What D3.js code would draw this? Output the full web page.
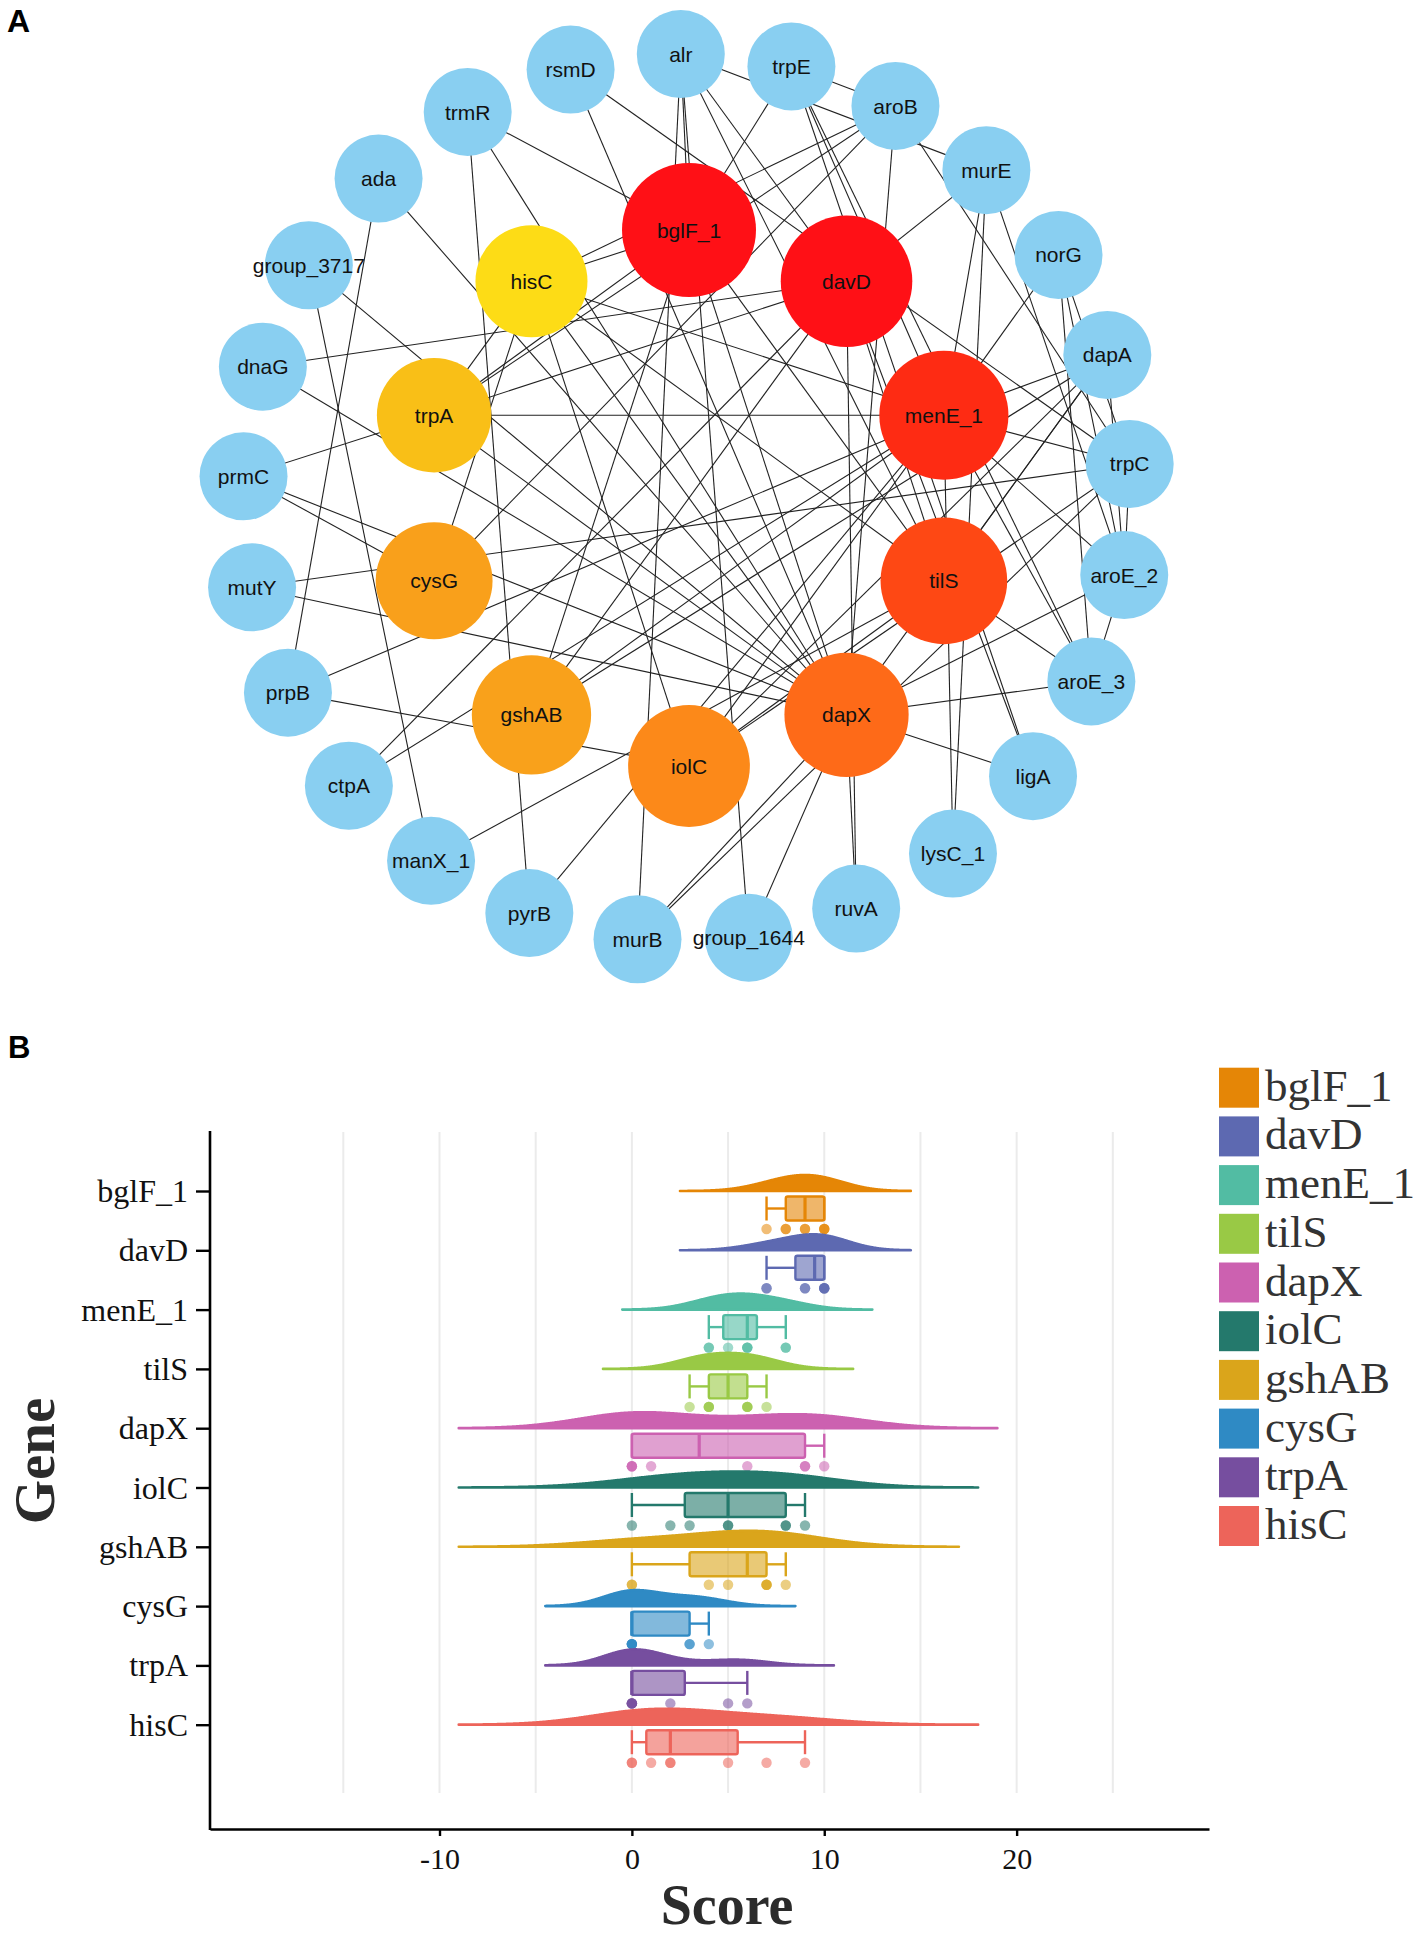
<!DOCTYPE html>
<html>
<head>
<meta charset="utf-8">
<script src="https://cdn.jsdelivr.net/npm/d3@7"></script>
<style>
body { margin: 0; background: #fff; }
svg { display: block; }
</style>
</head>
<body>
<svg id="fig" width="1418" height="1938"></svg>
<script>
// hub genes in rank order (inner ring of A, rows of B)
const genes = ["bglF_1", "davD", "menE_1", "tilS", "dapX", "iolC", "gshAB", "cysG", "trpA", "hisC"];

// outer ring of A, clockwise from the top
const ringGenes = ["alr", "trpE", "aroB", "murE", "norG", "dapA", "trpC", "aroE_2", "aroE_3", "ligA",
    "lysC_1", "ruvA", "group_1644", "murB", "pyrB", "manX_1", "ctpA", "prpB", "mutY", "prmC",
    "dnaG", "group_3717", "ada", "trmR", "rsmD"];

// interactions
const links = [
    ["trmR", "bglF_1"], ["trmR", "dapX"], ["trmR", "pyrB"],
    ["rsmD", "trpC"], ["rsmD", "dapX"],
    ["alr", "bglF_1"], ["alr", "murB"], ["alr", "group_1644"], ["alr", "davD"], ["alr", "murE"], ["alr", "tilS"],
    ["trpE", "menE_1"], ["trpE", "aroE_3"], ["trpE", "aroB"], ["trpE", "ligA"], ["trpE", "bglF_1"],
    ["aroB", "hisC"], ["aroB", "trpA"], ["aroB", "cysG"], ["aroB", "dapX"], ["aroB", "trpC"],
    ["murE", "davD"], ["murE", "lysC_1"], ["murE", "menE_1"], ["murE", "aroE_2"],
    ["norG", "menE_1"], ["norG", "aroE_3"], ["norG", "aroE_2"], ["norG", "trpC"],
    ["dapA", "menE_1"], ["dapA", "gshAB"], ["dapA", "iolC"], ["dapA", "tilS"], ["dapA", "dapX"], ["dapA", "aroE_2"],
    ["trpC", "menE_1"], ["trpC", "aroE_2"], ["trpC", "murB"], ["mutY", "trpC"],
    ["aroE_2", "dapX"], ["aroE_2", "menE_1"], ["aroE_2", "aroE_3"],
    ["aroE_3", "dapX"], ["aroE_3", "tilS"], ["aroE_3", "menE_1"],
    ["ligA", "dapX"], ["ligA", "davD"],
    ["lysC_1", "menE_1"],
    ["ruvA", "dapX"], ["ruvA", "davD"],
    ["group_1644", "dapX"], ["murB", "dapX"], ["pyrB", "menE_1"],
    ["manX_1", "tilS"], ["group_3717", "manX_1"],
    ["ctpA", "davD"], ["ctpA", "menE_1"],
    ["prpB", "menE_1"], ["prpB", "iolC"], ["ada", "prpB"],
    ["mutY", "dapX"],
    ["prmC", "trpA"], ["prmC", "cysG"], ["prmC", "dapX"],
    ["dnaG", "davD"], ["dnaG", "dapX"],
    ["group_3717", "dapX"], ["ada", "dapX"],
    ["hisC", "bglF_1"], ["trpA", "hisC"], ["trpA", "bglF_1"], ["trpA", "davD"], ["trpA", "menE_1"], ["trpA", "dapX"],
    ["hisC", "cysG"], ["hisC", "iolC"], ["hisC", "tilS"], ["hisC", "dapX"], ["hisC", "menE_1"],
    ["bglF_1", "gshAB"], ["bglF_1", "tilS"], ["bglF_1", "dapX"], ["gshAB", "menE_1"], ["iolC", "tilS"],
    ["iolC", "menE_1"], ["iolC", "trpC"], ["gshAB", "davD"], ["davD", "tilS"]
];

// panel B: scores per gene (same order as genes)
const scores = [
    [7, 8, 8, 9, 9, 10, 10, 10],
    [7, 7, 9, 9, 10, 10, 10, 10],
    [4, 4, 5, 6, 6, 6, 8, 8],
    [3, 4, 4, 4, 6, 6, 6, 7],
    [0, 0, 0, 1, 6, 9, 9, 10],
    [0, 2, 3, 5, 5, 8, 8, 9],
    [0, 0, 4, 5, 7, 7, 7, 8],
    [0, 0, 0, 0, 0, 3, 3, 4],
    [0, 0, 0, 0, 0, 2, 5, 6],
    [0, 0, 1, 2, 2, 5, 7, 9]
];
const bandwidths = [1.5, 1.5, 1.5, 1.5, 3, 3, 3, 1.5, 1.5, 3];
const xTicks = [-10, 0, 10, 20];
const gridValues = [-15, -10, -5, 0, 5, 10, 15, 20, 25];

// colours
const vivid = ["#E58606", "#5D69B1", "#52BCA3", "#99C945", "#CC61B0", "#24796C", "#DAA51B", "#2F8AC4", "#764E9F", "#ED645A"];
const hubPalette = ["#ff1016", "#ff1016", "#fe2b13", "#fe4814", "#fe6a18", "#fc8919", "#f9a11b", "#f9a01b", "#f9bf17", "#fddc16"];
const ringColor = "#89cff1";

const SANS = "'Liberation Sans', Arial, sans-serif";
const SERIF = "'Liberation Serif', 'Times New Roman', serif";

const svg = d3.select("#fig");

// ---------- A: network ----------
const deg = Math.PI / 180;
const outerAngle = d3.scaleLinear().domain([0, ringGenes.length]).range([-90.8 * deg, 269.2 * deg]);
const innerAngle = d3.scaleLinear().domain([0, genes.length]).range([-90 * deg, 270 * deg]);
const hubRadius = d3.scaleLinear().domain([0, genes.length - 1]).range([67, 56]);
const hubColor = d3.scaleOrdinal(genes, hubPalette);

const nodes = [];
genes.forEach((g, i) => nodes.push({
    id: g, hub: true, r: hubRadius(i),
    x: 689 + 268 * Math.cos(innerAngle(i)),
    y: 498 + 268 * Math.sin(innerAngle(i))
}));
ringGenes.forEach((g, i) => nodes.push({
    id: g, hub: false, r: 44,
    x: 687 + 444 * Math.cos(outerAngle(i)),
    y: 498 + 444 * Math.sin(outerAngle(i))
}));
const byId = new Map(nodes.map(n => [n.id, n]));

const net = svg.append("g").attr("class", "network");

net.append("g")
    .selectAll("line")
    .data(links)
    .enter()
    .append("line")
    .attr("x1", d => byId.get(d[0]).x)
    .attr("y1", d => byId.get(d[0]).y)
    .attr("x2", d => byId.get(d[1]).x)
    .attr("y2", d => byId.get(d[1]).y)
    .style("stroke", "#222")
    .style("stroke-width", 1.1);

const node = net.append("g")
    .selectAll("g")
    .data(nodes)
    .enter()
    .append("g")
    .attr("transform", d => `translate(${d.x},${d.y})`);

node.append("circle")
    .attr("r", d => d.r)
    .style("fill", d => d.hub ? hubColor(d.id) : ringColor);

node.append("text")
    .attr("text-anchor", "middle")
    .attr("dy", "0.36em")
    .style("font-family", SANS)
    .style("font-size", "21px")
    .style("fill", "#111")
    .text(d => d.id);

svg.append("text")
    .attr("x", 7).attr("y", 32)
    .style("font-family", SANS).style("font-weight", "bold").style("font-size", "32px")
    .text("A");

// ---------- B: raincloud ----------
svg.append("text")
    .attr("x", 8).attr("y", 1058)
    .style("font-family", SANS).style("font-weight", "bold").style("font-size", "31px")
    .text("B");

const x = d3.scaleLinear().domain([-21.93, 30]).range([210, 1209]);
const y = d3.scalePoint().domain(genes).range([1191, 1724.7]);
const color = d3.scaleOrdinal(genes, vivid);

const plot = svg.append("g").attr("class", "raincloud");

// grid
plot.append("g")
    .selectAll("line")
    .data(gridValues)
    .enter()
    .append("line")
    .attr("x1", d => x(d)).attr("x2", d => x(d))
    .attr("y1", 1132).attr("y2", 1793)
    .style("stroke", "#ebebeb")
    .style("stroke-width", 2);

function kde(values, bw, xs) {
    return xs.map(v => [v, d3.mean(values, s => Math.exp(-0.5 * ((v - s) / bw) ** 2)) / (bw * Math.sqrt(2 * Math.PI))]);
}

genes.forEach((g, i) => {
    const vals = scores[i].slice().sort(d3.ascending);
    const bw = bandwidths[i];
    const base = y(g);
    const c = color(g);

    // half violin
    const lo = d3.min(vals) - 3 * bw, hi = d3.max(vals) + 3 * bw;
    const grid = d3.range(512).map(k => lo + (hi - lo) * k / 511);
    const dens = kde(vals, bw, grid);
    const h = d3.scaleLinear().domain([0, d3.max(dens, d => d[1])]).range([0, 16]);
    plot.append("path")
        .datum(dens)
        .attr("d", d3.area().x(d => x(d[0])).y0(base).y1(d => base - h(d[1])))
        .style("fill", c)
        .style("stroke", c)
        .style("stroke-width", 2.6)
        .style("stroke-linejoin", "round");

    // box
    const q1 = d3.quantile(vals, 0.25), med = d3.quantile(vals, 0.5), q3 = d3.quantile(vals, 0.75);
    const iqr = q3 - q1;
    const wLo = d3.min(vals.filter(v => v >= q1 - 1.5 * iqr));
    const wHi = d3.max(vals.filter(v => v <= q3 + 1.5 * iqr));
    const top = base + 5.5, bot = base + 29.5, mid = (top + bot) / 2;
    const box = plot.append("g").style("stroke", c).style("stroke-width", 2.4);
    box.append("line").attr("x1", x(wLo)).attr("x2", x(q1)).attr("y1", mid).attr("y2", mid);
    box.append("line").attr("x1", x(q3)).attr("x2", x(wHi)).attr("y1", mid).attr("y2", mid);
    box.append("line").attr("x1", x(wLo)).attr("x2", x(wLo)).attr("y1", top).attr("y2", bot);
    box.append("line").attr("x1", x(wHi)).attr("x2", x(wHi)).attr("y1", top).attr("y2", bot);
    box.append("rect")
        .attr("x", x(q1)).attr("y", top)
        .attr("width", x(q3) - x(q1)).attr("height", bot - top)
        .attr("rx", 2)
        .style("fill", c).style("fill-opacity", 0.6);
    box.append("line").attr("x1", x(med)).attr("x2", x(med)).attr("y1", top).attr("y2", bot)
        .style("stroke-width", 3.2);

    // rain
    plot.append("g")
        .selectAll("circle")
        .data(vals)
        .enter()
        .append("circle")
        .attr("cx", d => x(d))
        .attr("cy", base + 38)
        .attr("r", 5.2)
        .style("fill", c)
        .style("fill-opacity", 0.55);
});

// axes
const xAxis = svg.append("g")
    .attr("transform", "translate(0,1829)")
    .call(d3.axisBottom(x).tickValues(xTicks).tickSize(7).tickSizeOuter(0).tickPadding(12).tickFormat(d => String(d)));
const yAxis = svg.append("g")
    .attr("transform", "translate(210,0)")
    .call(d3.axisLeft(y).tickSize(14).tickSizeOuter(0).tickPadding(8));
yAxis.select(".domain").remove();
svg.append("line")
    .attr("x1", 210).attr("x2", 210).attr("y1", 1131).attr("y2", 1830)
    .style("stroke", "#000").style("stroke-width", 2.6);

[xAxis, yAxis].forEach(a => {
    a.attr("font-family", SERIF);
    a.selectAll("text").style("fill", "#111");
    a.selectAll("line").style("stroke", "#000").style("stroke-width", 2.4);
    a.selectAll(".domain").style("stroke", "#000").style("stroke-width", 2.6);
});
xAxis.attr("font-size", 30);
yAxis.attr("font-size", 32);
yAxis.selectAll("text").attr("dy", "0.33em");

svg.append("text")
    .attr("transform", "translate(54,1461) rotate(-90)")
    .attr("text-anchor", "middle")
    .style("font-family", SERIF).style("font-weight", "bold").style("font-size", "57px")
    .style("fill", "#2b2b2b")
    .text("Gene");

svg.append("text")
    .attr("x", 727).attr("y", 1924)
    .attr("text-anchor", "middle")
    .style("font-family", SERIF).style("font-weight", "bold").style("font-size", "56px")
    .style("fill", "#2b2b2b")
    .text("Score");

// legend
const legend = svg.append("g")
    .selectAll("g")
    .data(genes)
    .enter()
    .append("g")
    .attr("transform", (d, i) => `translate(1219,${1067.7 + i * 48.7})`);
legend.append("rect")
    .attr("width", 40).attr("height", 40)
    .style("fill", d => color(d));
legend.append("text")
    .attr("x", 46).attr("y", 33)
    .style("font-family", SERIF).style("font-size", "45px")
    .style("fill", "#333")
    .text(d => d);
</script>
</body>
</html>
